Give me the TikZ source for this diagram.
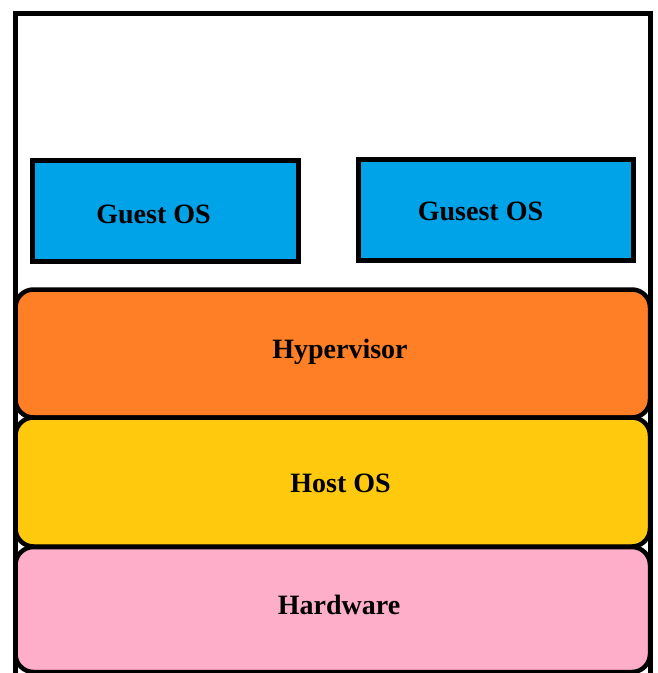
\documentclass[tikz,border=0pt]{standalone}
\usepackage{fontspec}
\setmainfont{Liberation Serif}
\definecolor{guestblue}{RGB}{0,162,232}
\definecolor{hyporange}{RGB}{255,127,39}
\definecolor{hostyellow}{RGB}{255,201,14}
\definecolor{hwpink}{RGB}{255,174,201}
\tikzset{
  guestbox/.style={draw=black, line width=5pt, fill=guestblue, rectangle, inner sep=0pt},
  layerbox/.style={draw=black, line width=4.5pt, rounded corners=18pt, rectangle, inner sep=0pt},
  lbl/.style={anchor=base, inner sep=0pt, font=\fontsize{28}{32}\selectfont\bfseries, text=black}
}
\begin{document}
\begin{tikzpicture}[x=1pt,y=-1pt]
\useasboundingbox (0,0) rectangle (657,673);
\clip (0,0) rectangle (657,673);
\fill[white] (0,0) rectangle (657,673);
% outer frame
\draw[line width=5pt] (15.5,13) rectangle (650,700);
% guest boxes
\node[guestbox, minimum width=266pt, minimum height=101pt] (g1) at (165.5,211) {};
\node[guestbox, minimum width=275pt, minimum height=101.5pt] (g2) at (496,209.75) {};
\node[lbl] (g1t) at (153.5,223) {Guest OS};
\node[lbl] (g2t) at (480.5,220.5) {Gusest OS};
% layers
\node[layerbox, fill=hyporange, minimum width=634.5pt, minimum height=128pt] (hyp) at (332.75,353.5) {};
\node[layerbox, fill=hostyellow, minimum width=634.5pt, minimum height=129pt] (host) at (332.75,482) {};
\node[layerbox, fill=hwpink, minimum width=634.5pt, minimum height=125pt] (hw) at (332.75,609.5) {};
\node[lbl] (hypt) at (340,358.5) {Hypervisor};
\node[lbl] (hostt) at (340.5,492.5) {Host OS};
\node[lbl] (hwt) at (339,614) {Hardware};
\end{tikzpicture}
\end{document}
